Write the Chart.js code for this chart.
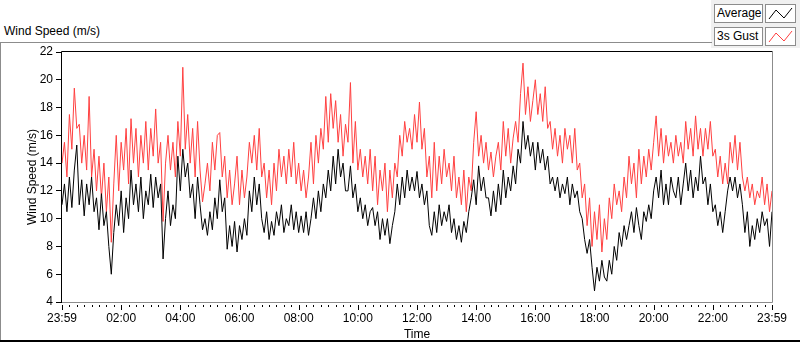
<!DOCTYPE html>
<html>
<head>
<meta charset="utf-8">
<script src="https://cdn.jsdelivr.net/npm/chart.js@4/dist/chart.umd.min.js"></script>
<style>
  body { margin: 0; background: #fff; }
  #wrap { position: relative; width: 800px; height: 342px; font-family: "Liberation Sans", Arial, sans-serif; font-size: 12px; color: #000; }
  #c { position: absolute; left: 0; top: 0; }
  .box { position: absolute; border: 1px solid #8c8c8c; background: #fff; box-sizing: border-box; }
  .lab { line-height: 16px; padding-left: 2px; }
</style>
</head>
<body>
<div id="wrap">
  <!-- legend panel -->
  <div style="position:absolute;left:711px;top:0;width:89px;height:48px;background:#f0f0f0;"></div>
  <!-- outer frame lines -->
  <div style="position:absolute;left:0;top:42px;width:712px;height:1px;background:#8c8c8c;"></div>
  <div style="position:absolute;left:0;top:42px;width:1px;height:300px;background:#8c8c8c;"></div>
  <div style="position:absolute;left:0;top:340px;width:800px;height:2px;background:#000;"></div>
  <div style="position:absolute;left:4px;top:24px;line-height:14px;">Wind Speed (m/s)</div>
  <canvas id="c" width="800" height="342"></canvas>
  <div class="box lab" style="left:714px;top:4px;width:49px;height:19px;">Average</div>
  <div class="box" style="left:765px;top:4px;width:31px;height:19px;">
    <svg width="29" height="17"><polyline points="3,14 10,5 18,13 26,3" fill="none" stroke="#000" stroke-width="1"/></svg>
  </div>
  <div class="box lab" style="left:714px;top:27px;width:49px;height:19px;">3s Gust</div>
  <div class="box" style="left:765px;top:27px;width:31px;height:19px;">
    <svg width="29" height="17"><polyline points="3,14 10,5 18,13 26,3" fill="none" stroke="#ff4040" stroke-width="1"/></svg>
  </div>
</div>
<script>
// sample spacing of both series, minutes from 23:59
var sampleMinutes = 5;

// x axis labels, one every two hours
var timeLabels = ['23:59', '02:00', '04:00', '06:00', '08:00', '10:00', '12:00',
  '14:00', '16:00', '18:00', '20:00', '22:00', '23:59'];
var yTicks = [4, 6, 8, 10, 12, 14, 16, 18, 20, 22];

// 1 min average wind speed (m/s)
var averageSpeed = [
  11.0,12.5,10.5,13.0,10.8,13.5,15.3,11.0,12.8,10.2, 12.5,11.0,13.0,10.5,11.5,9.2,11.8,9.5,10.5,8.0,
  6.0,9.0,11.0,9.5,12.0,9.0,11.5,10.0,13.5,11.0, 12.5,10.5,13.0,10.0,12.0,11.0,13.2,10.8,13.0,11.5,
  12.5,7.1,10.0,12.0,9.5,11.0,10.0,14.5,12.0,15.0, 13.0,14.0,11.5,12.5,10.0,13.0,11.0,9.2,
  10.0,8.8,10.5,9.2,11.5,10.0,12.8,10.5,11.5,7.8, 9.5,8.0,9.8,7.6,9.5,8.5,10.0,8.8,12.0,10.5,
  13.0,11.0,12.5,10.0,9.0,10.5,8.5,9.8,8.8,10.5, 9.5,11.0,9.0,10.0,9.5,11.0,9.2,10.5,9.0,10.2,
  9.0,10.5,8.8,10.0,11.5,10.0,12.0,10.5,12.5,11.5, 13.5,12.0,14.5,12.5,15.0,13.0,14.0,12.0,
  12.0,13.8,11.5,12.5,10.5,11.5,10.0,11.0,9.5,10.5, 10.8,9.5,10.5,8.5,10.0,8.8,10.0,8.2,9.5,10.5,
  12.5,11.0,13.0,11.5,13.5,12.0,13.0,12.0,13.4,11.5, 12.5,11.0,12.0,9.5,8.8,10.5,9.0,11.0,9.5,10.5,
  9.8,11.0,9.0,10.0,8.5,9.5,8.3,9.8,9.0,10.5, 11.5,12.8,11.0,13.8,12.0,13.0,11.5,
  11.5,10.2,12.0,10.5,12.5,11.0,13.5,11.5,13.0,12.0, 13.8,12.5,15.0,14.0,17.0,15.0,16.0,14.5,15.5,13.5,
  15.5,14.0,15.0,13.5,14.5,12.5,13.0,12.0,13.0,11.5, 12.5,11.8,13.0,11.0,12.5,11.5,12.0,10.5,10.0,8.5,
  7.5,8.5,6.5,4.8,6.5,5.5,7.0,5.8,5.5,7.0, 6.0,8.0,7.0,9.0,8.0,9.5,8.5,9.5,
  10.5,9.0,10.8,9.5,8.5,10.5,9.8,11.0,10.0,12.0, 13.0,11.5,13.5,11.0,12.5,11.0,13.0,12.0,11.5,13.0,
  11.0,12.5,14.0,12.0,13.5,11.5,13.0,12.0,14.5,12.5, 13.0,11.0,12.5,10.5,11.0,9.5,10.5,9.0,10.5,12.0,
  13.0,12.0,13.0,11.5,12.5,11.0,9.0,10.5,8.0,9.5, 8.5,10.0,9.0,10.5,9.5,10.0,8.0,10.5
];

// 3 s gust (m/s)
var gustSpeed = [
  14.0,15.5,13.0,17.5,15.0,19.4,16.5,16.8,14.0,16.0, 13.5,18.8,13.0,15.0,12.0,14.5,11.5,14.0,10.5,13.0,
  8.3,12.5,16.0,12.0,15.5,13.5,16.5,12.5,17.2,14.0, 16.5,13.0,16.0,14.0,17.0,13.5,16.5,14.5,17.9,14.0,
  15.5,9.8,14.0,16.0,13.5,15.5,13.0,17.0,14.5,20.9, 15.0,17.5,14.0,16.5,13.0,17.0,13.5,11.2,
  12.5,14.0,12.0,15.5,13.5,16.0,16.2,13.0,14.5,11.5, 13.5,11.0,12.5,14.5,11.0,13.5,11.5,13.0,15.5,14.0,
  16.0,13.5,16.5,13.0,14.0,11.5,13.5,11.0,14.0,12.0, 15.0,13.0,14.5,12.5,15.0,13.0,15.5,12.5,14.0,12.0,
  13.5,11.5,13.0,15.5,12.5,16.0,14.0,16.5,15.0,18.8, 15.5,19.0,16.5,18.5,15.5,17.5,14.5,16.8,
  15.5,19.8,14.0,17.0,13.5,15.0,13.0,14.5,12.5,15.0, 12.0,14.5,11.0,13.5,12.0,14.0,10.5,13.5,11.5,14.0,
  13.0,16.0,14.5,17.0,15.5,16.5,15.0,17.5,15.5,18.4, 15.0,16.5,13.0,14.5,11.5,15.5,12.0,14.5,12.5,15.0,
  13.0,14.0,12.0,14.5,11.5,13.0,11.0,13.5,10.5,13.0, 12.0,15.5,17.7,14.5,16.0,14.0,15.5,
  13.5,14.8,13.0,14.5,15.5,13.5,17.0,14.5,16.5,14.0, 15.8,17.0,15.5,19.0,21.2,17.5,19.5,17.0,18.5,20.0,
  17.5,19.0,17.0,19.5,16.5,17.0,15.0,16.5,14.5,16.0, 14.0,16.5,15.0,16.0,14.0,16.5,13.5,14.0,11.5,12.5,
  9.5,11.5,8.0,10.5,8.5,11.0,7.6,10.0,8.5,11.5, 10.0,12.5,11.0,12.0,10.5,13.0,11.5,14.5,
  12.5,14.0,11.5,15.0,12.5,14.5,13.0,15.0,13.5,15.5, 17.4,14.5,16.5,14.0,16.0,14.5,15.5,14.0,16.0,14.5,
  15.5,14.0,17.0,15.0,16.5,14.5,17.4,15.0,16.5,14.5, 16.5,15.0,17.0,14.5,15.0,13.0,14.5,12.5,14.0,12.5,
  15.5,14.0,16.0,13.5,15.5,13.0,12.0,13.0,11.5,12.5, 11.0,12.0,11.5,13.0,11.0,12.5,10.5,12.0
];

var toPoints = function(values) {
  return values.map(function(v, i) { return { x: i * sampleMinutes, y: v }; });
};

// plot frame and x tick marks (LabVIEW style: dark top/left, grey bottom/right)
var framePlugin = {
  id: 'frame',
  afterDraw: function(chart) {
    var ctx = chart.ctx;
    var a = chart.chartArea;
    var xs = chart.scales.x;
    ctx.save();
    ctx.lineWidth = 1;
    ctx.strokeStyle = '#8c8c8c';
    ctx.beginPath();
    ctx.moveTo(a.left, a.bottom + 0.5);
    ctx.lineTo(a.right + 0.5, a.bottom + 0.5);
    ctx.lineTo(a.right + 0.5, a.top);
    ctx.stroke();
    ctx.strokeStyle = '#000';
    ctx.beginPath();
    ctx.moveTo(a.left - 0.5, a.bottom + 0.5);
    ctx.lineTo(a.left - 0.5, a.top - 0.5);
    ctx.lineTo(a.right + 0.5, a.top - 0.5);
    ctx.stroke();
    // minor ticks every 15 min, long ones every 2 h
    ctx.beginPath();
    for (var m = 0; m <= 1440; m += 15) {
      var px = Math.round(xs.getPixelForValue(m)) + 0.5;
      ctx.moveTo(px, a.bottom + 3);
      ctx.lineTo(px, a.bottom + (m % 120 === 0 ? 8 : 5));
    }
    ctx.stroke();
    ctx.restore();
  }
};

var ctx = document.getElementById('c').getContext('2d');
var chart = new Chart(ctx, {
  type: 'line',
  data: {
    datasets: [
      {
        label: 'Average',
        data: toPoints(averageSpeed),
        borderColor: '#000000',
        borderWidth: 1,
        pointRadius: 0,
        order: 0
      },
      {
        label: '3s Gust',
        data: toPoints(gustSpeed),
        borderColor: '#ff4040',
        borderWidth: 1,
        pointRadius: 0,
        order: 1
      }
    ]
  },
  options: {
    responsive: false,
    animation: false,
    devicePixelRatio: 1,
    layout: { padding: { left: 0, right: 28, top: 52, bottom: 0 } },
    plugins: { legend: { display: false }, tooltip: { enabled: false } },
    scales: {
      x: {
        type: 'linear',
        min: 0,
        max: 1440,
        afterFit: function(scale) { scale.height = 40; },
        afterBuildTicks: function(scale) {
          scale.ticks = timeLabels.map(function(t, i) { return { value: i * 120 }; });
        },
        ticks: {
          autoSkip: false,
          maxRotation: 0,
          padding: 9,
          color: '#000',
          font: { family: 'Liberation Sans', size: 12 },
          callback: function(v) { return timeLabels[v / 120]; }
        },
        grid: { display: true, drawOnChartArea: false, drawTicks: false },
        border: { display: false },
        title: {
          display: true,
          text: 'Time',
          color: '#000',
          font: { family: 'Liberation Sans', size: 12 },
          padding: { top: 0, bottom: 0 }
        }
      },
      y: {
        min: 4,
        max: 22,
        afterFit: function(scale) { scale.width = 62; },
        afterBuildTicks: function(scale) {
          scale.ticks = yTicks.map(function(v) { return { value: v }; });
        },
        ticks: {
          padding: 3,
          color: '#000',
          font: { family: 'Liberation Sans', size: 12 }
        },
        grid: { drawOnChartArea: false, drawTicks: true, tickLength: 6, color: '#000' },
        border: { display: false },
        title: {
          display: true,
          text: 'Wind Speed (m/s)',
          color: '#000',
          font: { family: 'Liberation Sans', size: 12 },
          padding: { top: 25, bottom: 0 }
        }
      }
    }
  },
  plugins: [framePlugin]
});
</script>
</body>
</html>
